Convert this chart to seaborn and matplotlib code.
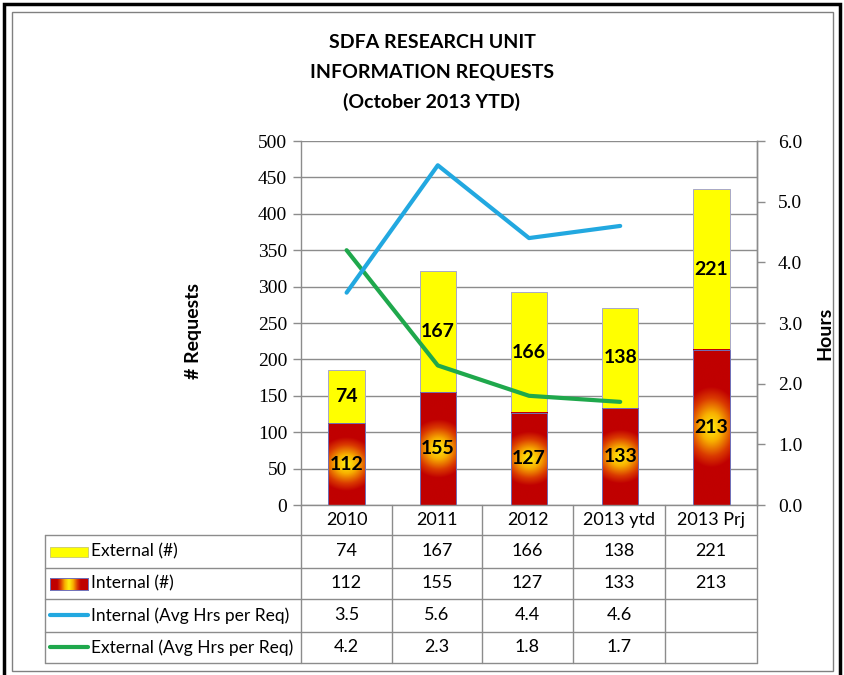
import numpy as np
import pandas as pd
import matplotlib
matplotlib.use("Agg")
import matplotlib.pyplot as plt
import seaborn as sns
from matplotlib.colors import LinearSegmentedColormap
from matplotlib.lines import Line2D
from matplotlib.patches import Rectangle

# data
years = ["2010", "2011", "2012", "2013 ytd", "2013 Prj"]
external = [74, 167, 166, 138, 221]
internal = [112, 155, 127, 133, 213]
int_hours = [3.5, 5.6, 4.4, 4.6]
ext_hours = [4.2, 2.3, 1.8, 1.7]
row_labels = ["External (#)", "Internal (#)",
              "Internal (Avg Hrs per Req)", "External (Avg Hrs per Req)"]

W, H = 844, 675
YELLOW = "#FFFF00"
RED = "#C00000"
BLUE = "#22A8E0"
GREEN = "#1FA84C"
GRID = "#8C8C8C"

sns.set_theme(style="white")
sans = ["Lato", "DejaVu Sans"]
serif = ["Liberation Serif", "DejaVu Serif"]
plt.rcParams["font.family"] = sans
plt.rcParams["text.color"] = "black"
plt.rcParams["ytick.color"] = "black"

fig = plt.figure(figsize=(W / 100, H / 100), dpi=100)
fig.patch.set_facecolor("white")


def fx(px):
    return px / W


def fy(py):
    return 1 - py / H


ax = fig.add_axes([fx(301), fy(505), fx(757) - fx(301), fy(141) - fy(505)])

df = pd.DataFrame({"year": years, "external": external, "internal": internal})
df["total"] = df["external"] + df["internal"]

# stacked bars: total in yellow, internal drawn over it
sns.barplot(data=df, x="year", y="total", color=YELLOW, saturation=1, width=0.4,
            errorbar=None, edgecolor="#A8A8C8", linewidth=0.7, ax=ax, zorder=2)
n_total = len(ax.patches)
sns.barplot(data=df, x="year", y="internal", color=RED, saturation=1, width=0.4,
            errorbar=None, edgecolor="#7070B8", linewidth=0.7, ax=ax, zorder=3)

ax.set_xlim(-0.5, 4.5)
ax.set_ylim(0, 500)

# radial glow inside the internal bars
glow = LinearSegmentedColormap.from_list(
    "glow", [(0, "#FFF010"), (0.35, "#F8B000"), (0.72, "#DA3A00"), (1, RED)])
for bar in ax.patches[n_total:]:
    x0, w, h = bar.get_x(), bar.get_width(), bar.get_height()
    (p0x, p0y), (p1x, p1y) = ax.transData.transform([(x0, 0), (x0 + w, h)])
    wp, hp = abs(p1x - p0x), abs(p1y - p0y)
    xx, yy = np.meshgrid(np.linspace(-wp / 2, wp / 2, int(wp) * 2),
                         np.linspace(-hp / 2, hp / 2, int(hp) * 2))
    ry = max(27, 0.26 * hp)
    d = np.clip(np.sqrt((xx / 30) ** 2 + (yy / ry) ** 2), 0, 1)
    ax.imshow(d, cmap=glow, vmin=0, vmax=1, extent=[x0, x0 + w, 0, h],
              aspect="auto", origin="lower", zorder=2.5, interpolation="bilinear")
    bar.set_facecolor("none")

ax.set_xlim(-0.5, 4.5)
ax.set_ylim(0, 500)

for i in range(len(years)):
    ax.text(i, internal[i] / 2, str(internal[i]), ha="center", va="center",
            fontsize=14, fontweight="bold", color="black", zorder=5)
    ax.text(i, internal[i] + external[i] / 2, str(external[i]), ha="center",
            va="center", fontsize=14, fontweight="bold", color="black", zorder=5)

ax.set_yticks(range(0, 501, 50))
ax.yaxis.grid(True, color=GRID, linewidth=1)
ax.set_axisbelow(True)
ax.set_xticks([])
ax.set_xlabel("")
ax.set_ylabel("")
ax.tick_params(axis="y", left=True, length=6, width=1, color=GRID, pad=4)
for lab in ax.get_yticklabels():
    lab.set_family(serif)
    lab.set_fontsize(14)
for side in ["left", "bottom", "right"]:
    ax.spines[side].set_color(GRID)
    ax.spines[side].set_linewidth(1)
ax.spines["top"].set_visible(False)

# average hours on the right axis
ax2 = ax.twinx()
sns.lineplot(x=np.arange(4), y=ext_hours, color=GREEN, linewidth=3, ax=ax2)
sns.lineplot(x=np.arange(4), y=int_hours, color=BLUE, linewidth=3, ax=ax2)
ax2.set_ylim(0, 6)
ax2.set_xlim(-0.5, 4.5)
ax2.set_yticks(range(0, 7))
ax2.set_yticklabels([f"{v:.1f}" for v in range(0, 7)], family=serif, fontsize=14)
ax2.set_ylabel("")
ax2.set_xticks([])
ax2.tick_params(axis="y", right=True, length=6, width=1, color=GRID, pad=9)
for side in ["left", "bottom", "top"]:
    ax2.spines[side].set_visible(False)
ax2.spines["right"].set_color(GRID)
ax2.spines["right"].set_linewidth(1)

# titles and axis titles
title = ["SDFA RESEARCH UNIT", "INFORMATION REQUESTS", "(October 2013 YTD)"]
for k, line in enumerate(title):
    fig.text(fx(432), fy(42 + 30 * k), line, ha="center", va="center",
             fontsize=14, fontweight="bold")
fig.text(fx(193), fy(331), "# Requests", rotation=90, ha="center", va="center",
         fontsize=14, fontweight="bold")
fig.text(fx(825), fy(333), "Hours", rotation=90, ha="center", va="center",
         fontsize=14, fontweight="bold")

# data table below the plot
col_edges = [301, 392, 482, 573, 665, 757]
row_edges = [535, 568, 599, 632, 663]


def fig_line(xs, ys, **kw):
    fig.add_artist(Line2D([fx(x) for x in xs], [fy(y) for y in ys],
                          transform=fig.transFigure, **kw))


for x in col_edges:
    fig_line([x, x], [505, 663], color=GRID, linewidth=1)
fig_line([45, 45], [535, 663], color=GRID, linewidth=1)
for y in row_edges:
    fig_line([45, 757], [y, y], color=GRID, linewidth=1)

for j, yr in enumerate(years):
    cx = (col_edges[j] + col_edges[j + 1]) / 2
    fig.text(fx(cx), fy(520), yr, ha="center", va="center", fontsize=13)

table_rows = [
    [str(v) for v in external],
    [str(v) for v in internal],
    [f"{v:.1f}" for v in int_hours],
    [f"{v:.1f}" for v in ext_hours],
]
for r, vals in enumerate(table_rows):
    cy = (row_edges[r] + row_edges[r + 1]) / 2
    fig.text(fx(91), fy(cy), row_labels[r], ha="left", va="center", fontsize=12.5)
    for j, v in enumerate(vals):
        cx = (col_edges[j] + col_edges[j + 1]) / 2
        fig.text(fx(cx), fy(cy), v, ha="center", va="center", fontsize=13)

# legend keys inside the table
fig.add_artist(Rectangle((fx(50), fy(557)), fx(88) - fx(50), fy(547) - fy(557),
                         transform=fig.transFigure, facecolor=YELLOW,
                         edgecolor="#C8C870", linewidth=0.6))
key_ax = fig.add_axes([fx(50), fy(590), fx(88) - fx(50), fy(578) - fy(590)])
kx = np.linspace(-1, 1, 80)
key_ax.imshow(np.clip(np.abs(kx)[None, :] * 1.6, 0, 1), cmap=glow, vmin=0, vmax=1,
              aspect="auto", interpolation="bilinear")
key_ax.set_xticks([])
key_ax.set_yticks([])
for sp in key_ax.spines.values():
    sp.set_color("#7070B8")
    sp.set_linewidth(0.7)
fig_line([50, 88], [615, 615], color=BLUE, linewidth=3)
fig_line([50, 88], [647, 647], color=GREEN, linewidth=3)

# picture frame
fig.add_artist(Rectangle((fx(4), fy(690)), fx(840) - fx(4), fy(4) - fy(690),
                         transform=fig.transFigure, fill=False,
                         edgecolor="black", linewidth=2.5))
fig.add_artist(Rectangle((fx(12), fy(671)), fx(833) - fx(12), fy(12) - fy(671),
                         transform=fig.transFigure, fill=False,
                         edgecolor="#808080", linewidth=1))

fig.savefig("out.png", dpi=100)
